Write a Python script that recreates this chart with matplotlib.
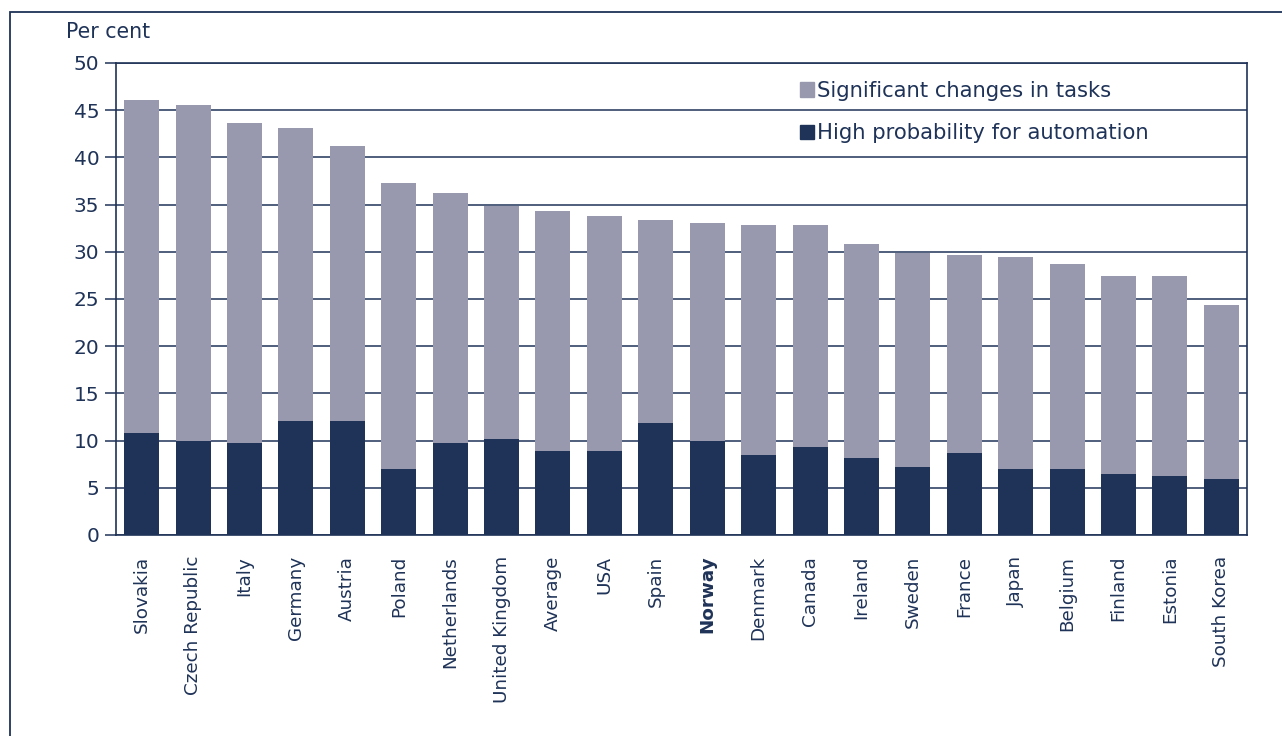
import matplotlib
matplotlib.use("Agg")
import matplotlib.pyplot as plt
from matplotlib.patches import Rectangle, Patch

countries = ["Slovakia", "Czech Republic", "Italy", "Germany", "Austria", "Poland",
             "Netherlands", "United Kingdom", "Average", "USA", "Spain", "Norway",
             "Denmark", "Canada", "Ireland", "Sweden", "France", "Japan", "Belgium",
             "Finland", "Estonia", "South Korea"]
high_prob = [10.8, 10.0, 9.7, 12.1, 12.1, 7.0, 9.7, 10.2, 8.9, 8.9, 11.9, 10.0,
             8.5, 9.3, 8.2, 7.2, 8.7, 7.0, 7.0, 6.5, 6.3, 5.9]
total = [46.1, 45.5, 43.6, 43.1, 41.2, 37.3, 36.2, 34.9, 34.3, 33.8, 33.4, 33.0,
         32.8, 32.8, 30.8, 29.9, 29.7, 29.5, 28.7, 27.4, 27.4, 24.4]
sig_changes = [t - h for t, h in zip(total, high_prob)]
yticks = [0, 5, 10, 15, 20, 25, 30, 35, 40, 45, 50]

NAVY = "#1f3358"
GRAY = "#9899ae"
TXT = "#1f3358"

plt.rcParams['font.family'] = ['DejaVu Sans']
fig = plt.figure(figsize=(12.82, 7.36), dpi=100)
W, H = 1282, 736
ax = fig.add_axes([116 / W, 1 - 535 / H, (1247 - 116) / W, (535 - 63) / H])

# outer frame
fig.patches.append(Rectangle((10 / W, -0.1), 1.2, 1 - 12 / H + 0.1, transform=fig.transFigure,
                             fill=False, edgecolor=NAVY, linewidth=1.3))

x = range(len(countries))
ax.bar(x, high_prob, width=0.68, color=NAVY, zorder=3, label="High probability for automation")
ax.bar(x, sig_changes, bottom=high_prob, width=0.68, color=GRAY, zorder=3,
       label="Significant changes in tasks")

ax.set_ylim(0, 50)
ax.set_xlim(-0.5, len(countries) - 0.5)
ax.set_yticks(yticks)
ax.yaxis.grid(True, color=NAVY, linewidth=1.1, zorder=0)
ax.set_axisbelow(True)
for s in ax.spines.values():
    s.set_color(NAVY)
    s.set_linewidth(1.2)
ax.tick_params(axis='y', colors=NAVY, labelcolor=TXT, labelsize=14.5, length=8, width=1.1, pad=4)
ax.tick_params(axis='x', length=0, labelsize=13.2, labelcolor=TXT, pad=15)
ax.set_xticks(list(x))
ax.set_xticklabels(countries, rotation=90)
for lbl in ax.get_xticklabels():
    if lbl.get_text() == "Norway":
        lbl.set_fontweight("bold")

fig.text(66 / W, 1 - 32 / H, "Per cent", fontsize=14.8, color=TXT, va="center", ha="left")

handles = [Patch(color=GRAY), Patch(color=NAVY)]
labels = ["Significant changes in tasks", "High probability for automation"]
leg = ax.legend(handles, labels, loc="upper left", bbox_to_anchor=(800 / W, 1 - 81 / H),
                bbox_transform=fig.transFigure, frameon=False, fontsize=15.2,
                handlelength=0.68, handleheight=0.68, handletextpad=0.12,
                labelspacing=1.05, borderpad=0, borderaxespad=0)
for t in leg.get_texts():
    t.set_color(TXT)

fig.savefig("out.png", dpi=100)
